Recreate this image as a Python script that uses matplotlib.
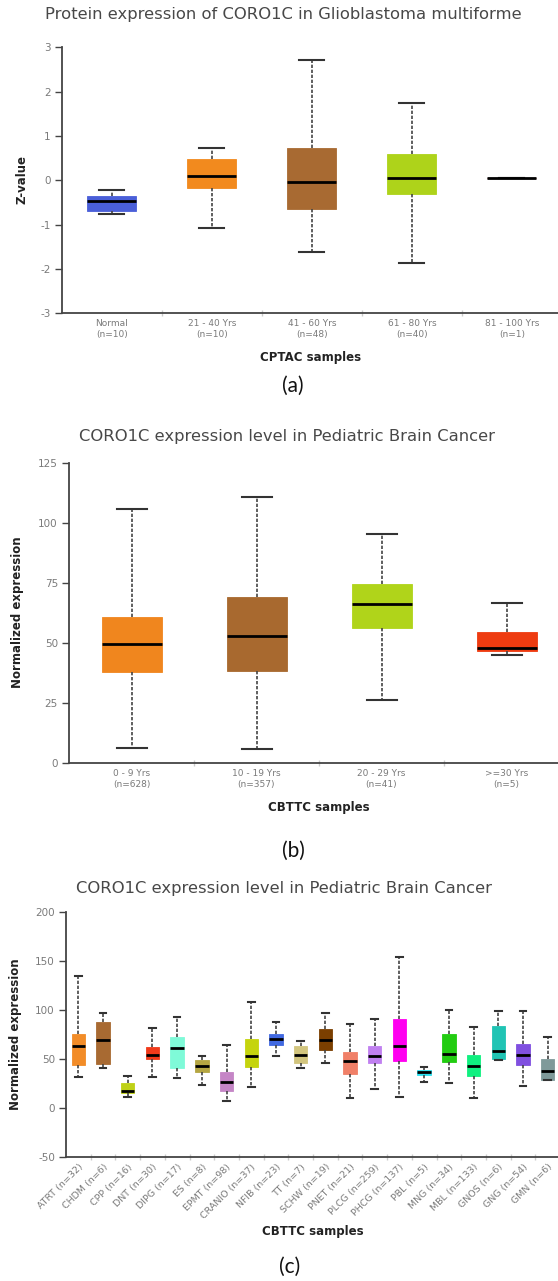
import matplotlib
matplotlib.use("Agg")
import matplotlib.pyplot as plt

W, H = 558, 1281

# ---------------- data ----------------
# Panel (a)
a_title = "Protein expression of CORO1C in Glioblastoma multiforme"
a_cats = ["Normal\n(n=10)", "21 - 40 Yrs\n(n=10)", "41 - 60 Yrs\n(n=48)",
          "61 - 80 Yrs\n(n=40)", "81 - 100 Yrs\n(n=1)"]
a_whislo = [-0.76, -1.08, -1.61, -1.86, 0.05]
a_q1 = [-0.70, -0.18, -0.65, -0.32, 0.05]
a_med = [-0.47, 0.09, -0.03, 0.045, 0.05]
a_q3 = [-0.36, 0.47, 0.73, 0.60, 0.05]
a_whishi = [-0.23, 0.72, 2.71, 1.75, 0.05]
a_colors = ["#4A5FD8", "#F28A1E", "#A86A32", "#AED31A", "#8B1A1A"]
a_yticks = [-3, -2, -1, 0, 1, 2, 3]

# Panel (b)
b_title = "CORO1C expression level in Pediatric Brain Cancer"
b_cats = ["0 - 9 Yrs\n(n=628)", "10 - 19 Yrs\n(n=357)", "20 - 29 Yrs\n(n=41)",
          ">=30 Yrs\n(n=5)"]
b_whislo = [6.4, 6.0, 26.3, 45.2]
b_q1 = [37.8, 38.4, 56.3, 46.6]
b_med = [49.6, 53.0, 66.1, 48.1]
b_q3 = [60.9, 69.2, 74.4, 54.6]
b_whishi = [105.6, 110.6, 95.5, 66.5]
b_colors = ["#F0861E", "#A8692F", "#B0D41A", "#EE3B10"]
b_yticks = [0, 25, 50, 75, 100, 125]

# Panel (c)
c_title = "CORO1C expression level in Pediatric Brain Cancer"
c_cats = ["ATRT (n=32)", "CHDM (n=6)", "CPP (n=16)", "DNT (n=30)", "DIPG (n=17)",
          "ES (n=8)", "EPMT (n=98)", "CRANIO (n=37)", "NFIB (n=23)", "TT (n=7)",
          "SCHW (n=19)", "PNET (n=21)", "PLCG (n=259)", "PHCG (n=137)", "PBL (n=5)",
          "MNG (n=34)", "MBL (n=133)", "GNOS (n=6)", "GNG (n=54)", "GMN (n=6)"]
c_whislo = [31.5, 41, 11, 31.5, 30.5, 23, 6.5, 21, 53, 41,
            46, 10, 19.5, 11, 26, 25, 10, 49, 22, 28]
c_q1 = [44, 45, 14.7, 49.7, 40.5, 36.7, 17.4, 42, 64.3, 46,
        58.5, 34.7, 45.6, 47.3, 33.4, 46.3, 32.7, 49.4, 43.3, 28]
c_med = [63, 69, 16.7, 54, 61, 42.5, 26, 53, 70, 54,
         68.7, 47.6, 52.8, 63.3, 36.4, 54.8, 42.9, 58.2, 53.5, 37.8]
c_q3 = [75, 87, 25.5, 62, 72, 48.7, 36, 70, 75, 63,
        80, 57, 62.6, 90.5, 38.5, 75, 53.8, 83.7, 64.7, 49.7]
c_whishi = [134, 97, 32.7, 81, 93, 53, 64, 108, 87.4, 68.4,
            97, 85.7, 90.8, 154, 42, 100, 82.7, 98.4, 98.4, 71.8]
c_colors = ["#F28C28", "#A86A32", "#BFD117", "#F03A1A", "#7FFAD8", "#B5A642",
            "#C586C6", "#C5D40E", "#4169E1", "#D2C57E", "#7B3F00", "#F08068",
            "#C080F0", "#FF00F0", "#2BE0F0", "#22CC11", "#10F080", "#20C4B4",
            "#8050E0", "#7F9A9A"]
c_yticks = [-50, 0, 50, 100, 150, 200]

# ---------------- helpers ----------------
def fx(x):
    return x / W

def fy(y):
    return 1 - y / H

fig = plt.figure(figsize=(W / 100, H / 100), dpi=100)

TXT_GREY = "#484848"
TICK_GREY = "#7a7a7a"


def panel(rect_px, cats, lo, q1, med, q3, hi, colors, ylim, yticks,
          box_w, cap_w, tick_fs, rotate=False):
    l, t, r, b = rect_px
    ax = fig.add_axes([fx(l), fy(b), (r - l) / W, (b - t) / H])
    n = len(cats)
    pos = list(range(n))
    stats = []
    for i in range(n):
        stats.append(dict(whislo=lo[i], q1=q1[i], med=med[i], q3=q3[i],
                          whishi=hi[i], fliers=[], label=cats[i]))
    bp = ax.bxp(stats, positions=pos, widths=box_w, patch_artist=True,
                showfliers=False, capwidths=cap_w,
                whiskerprops=dict(color="#444444", linewidth=1.2,
                                  linestyle=(0, (2, 1))),
                capprops=dict(color="#333333", linewidth=1.5),
                medianprops=dict(color="black", linewidth=2.0),
                boxprops=dict(linewidth=0.6))
    for patch, c in zip(bp["boxes"], colors):
        patch.set_facecolor(c)
        patch.set_edgecolor(c)
    ax.set_xlim(-0.5, n - 0.5)
    ax.set_ylim(*ylim)
    ax.set_yticks(yticks)
    ax.set_yticklabels([str(v) for v in yticks])
    ax.set_xticks(pos)
    if rotate:
        ax.set_xticklabels(cats, rotation=45, ha="right",
                           rotation_mode="anchor", fontsize=tick_fs,
                           color=TICK_GREY)
    else:
        ax.set_xticklabels(cats, fontsize=tick_fs, color=TICK_GREY,
                           linespacing=1.35)
    ax.set_xticks([k + 0.5 for k in range(n - 1)], minor=True)
    ax.tick_params(axis="x", which="major", length=0, pad=4)
    ax.tick_params(axis="x", which="minor", length=5, direction="inout",
                   color="#cccccc", width=1)
    ax.tick_params(axis="y", length=5, width=1, color="#444444",
                   labelsize=7.5, labelcolor=TICK_GREY, pad=3)
    for s in ("top", "right"):
        ax.spines[s].set_visible(False)
    for s in ("left", "bottom"):
        ax.spines[s].set_color("#444444")
        ax.spines[s].set_linewidth(1.3)
    ax.patch.set_alpha(0)
    return ax


# ---------------- panel (a) ----------------
ax_a = panel((61.7, 47.3, 562, 313.3), a_cats, a_whislo, a_q1, a_med, a_q3,
             a_whishi, a_colors, (-3, 3), a_yticks, 0.49, 0.25, 6.5)
fig.text(fx(283), fy(15), a_title, ha="center", va="center",
         fontsize=11.8, color=TXT_GREY)
fig.text(fx(311), fy(357.7), "CPTAC samples", ha="center", va="center",
         fontsize=8.5, fontweight="bold", color="#222222")
fig.text(fx(22), fy(180), "Z-value", ha="center", va="center", rotation=90,
         fontsize=8.5, fontweight="bold", color="#222222")
fig.text(fx(293), fy(386), "(a)", ha="center", va="center", fontsize=15,
         family="Lato", color="#111111")

# ---------------- panel (b) ----------------
ax_b = panel((69, 462.7, 569, 763.3), b_cats, b_whislo, b_q1, b_med, b_q3,
             b_whishi, b_colors, (0, 125), b_yticks, 0.48, 0.24, 6.5)
fig.text(fx(287), fy(436.7), b_title, ha="center", va="center",
         fontsize=11.8, color=TXT_GREY)
fig.text(fx(319), fy(807.3), "CBTTC samples", ha="center", va="center",
         fontsize=8.5, fontweight="bold", color="#222222")
fig.text(fx(18), fy(612), "Normalized expression", ha="center", va="center",
         rotation=90, fontsize=8.5, fontweight="bold", color="#222222")
fig.text(fx(293), fy(851), "(b)", ha="center", va="center", fontsize=15,
         family="Lato", color="#111111")

# ---------------- panel (c) ----------------
ax_c = panel((66, 911.7, 560, 1156.7), c_cats, c_whislo, c_q1, c_med, c_q3,
             c_whishi, c_colors, (-50, 200), c_yticks, 0.54, 0.27, 6.8,
             rotate=True)
fig.text(fx(284), fy(888.3), c_title, ha="center", va="center",
         fontsize=11.8, color=TXT_GREY)
fig.text(fx(313), fy(1231.7), "CBTTC samples", ha="center", va="center",
         fontsize=8.5, fontweight="bold", color="#222222")
fig.text(fx(16), fy(1034), "Normalized expression", ha="center", va="center",
         rotation=90, fontsize=8.5, fontweight="bold", color="#222222")
fig.text(fx(290), fy(1267), "(c)", ha="center", va="center", fontsize=15,
         family="Lato", color="#111111")

fig.savefig("out.png", dpi=100)
